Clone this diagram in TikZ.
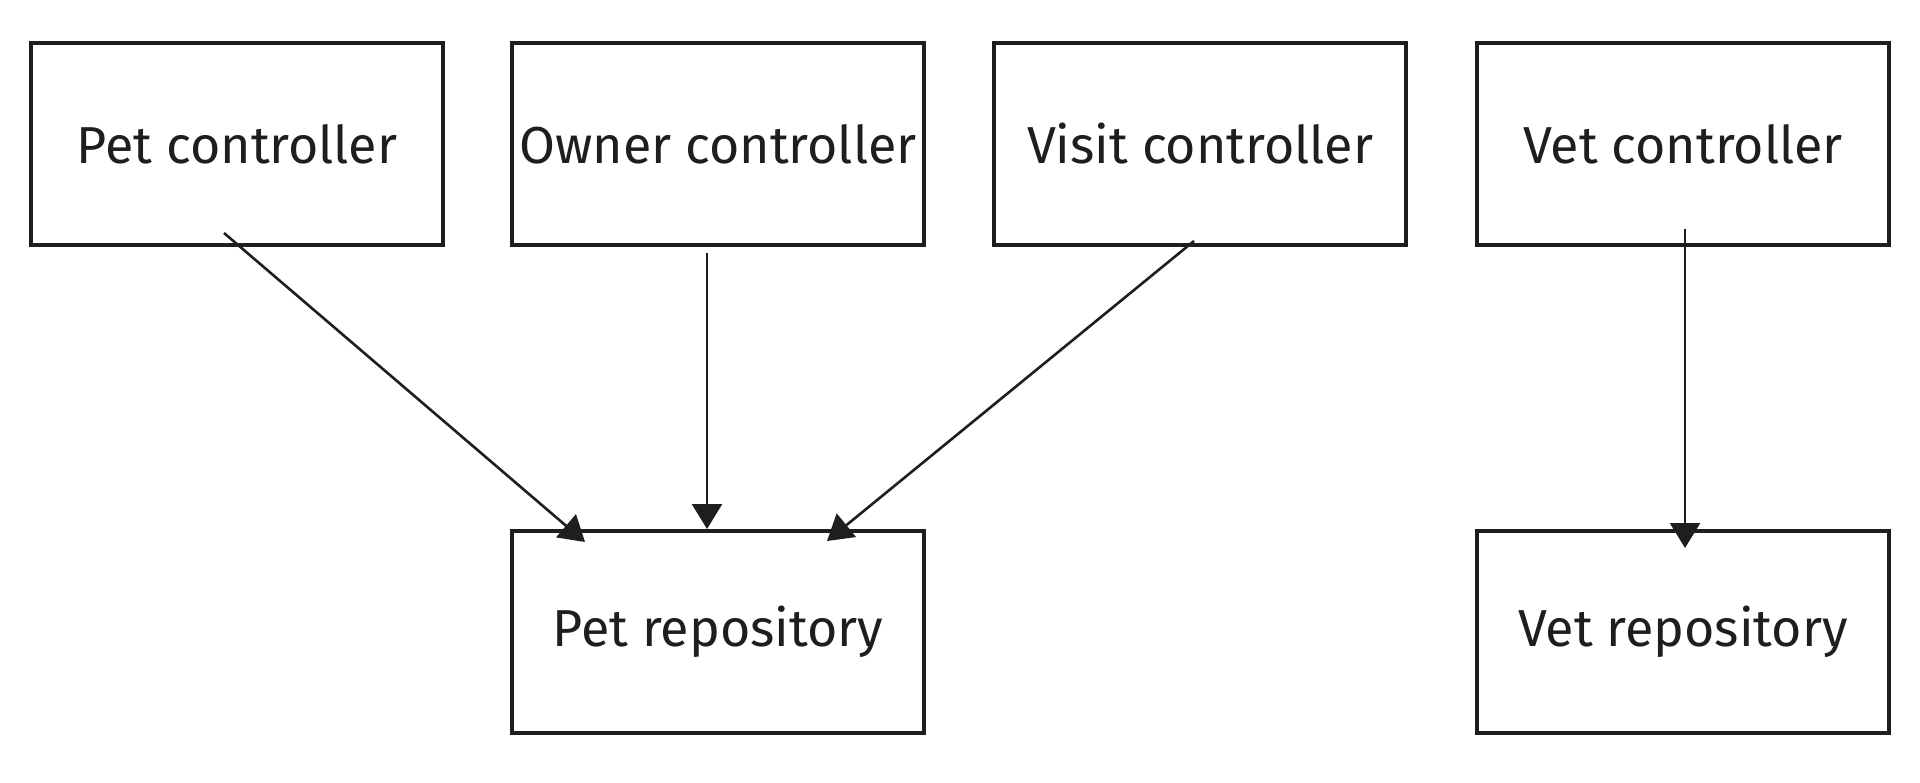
\documentclass[tikz,border=0pt]{standalone}
\usepackage{fontspec}
\setmainfont{Fira Sans}
\usetikzlibrary{arrows.meta,calc}
\definecolor{ink}{HTML}{1E1E1E}

\begin{document}
\begin{tikzpicture}[x=0.5pt,y=-0.5pt,font=\fontsize{26}{30}\selectfont,
  box/.style={draw=ink,line width=2pt,minimum width=206pt,
              minimum height=101pt,inner sep=0pt,text=ink},
  link/.style={draw=ink,line width=1.3pt,-{Triangle[length=12.5pt,width=15pt]}}]

% Canvas (coordinates are the pixels of the sketch, y pointing down)
\path[fill=white,use as bounding box] (0,0) rectangle (1920,782);

% The controllers (top row)
\node[box] (petctrl)   at (237,144)  {Pet controller};
\node[box] (ownerctrl) at (718,144)  {Owner controller};
\node[box] (visitctrl) at (1200,144) {Visit controller};
\node[box] (vetctrl)   at (1683,144) {Vet controller};

% The repositories (bottom row)
\node[box] (petrepo) at (718,632)  {Pet repository};
\node[box] (vetrepo) at (1683,632) {Vet repository};

% Each controller uses its repository
\draw[link] ($(petctrl.center)+(-13,89)$)  -- ($(petrepo.north)+(-133,13)$);
\draw[link] ($(ownerctrl.south)+(-11,6)$)  -- ($(petrepo.north)+(-11,0)$);
\draw[link] ($(visitctrl.south)+(-6,-6)$)  -- ($(petrepo.north)+(109,12)$);
\draw[link] ($(vetctrl.south)+(2,-18)$)    -- ($(vetrepo.north)+(2,19)$);
\end{tikzpicture}
\end{document}
